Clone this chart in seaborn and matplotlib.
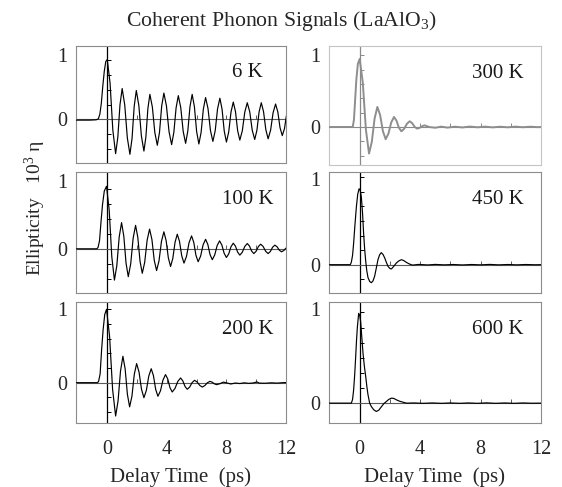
import matplotlib
matplotlib.use('Agg')
import matplotlib.pyplot as plt
import seaborn as sns
import pandas as pd

# ---------------- data ----------------
panel_labels = ['6 K', '100 K', '200 K', '300 K', '450 K', '600 K']

t_6K = [-2.1, -1.2, -0.75, -0.6, -0.5, -0.4, -0.3, -0.2, -0.1, 0.0,
        0.187, 0.373, 0.56, 0.707, 0.853, 1.00, 1.173, 1.347, 1.52, 1.663, 1.807, 1.95,
        2.12, 2.29, 2.46, 2.593, 2.727, 2.86, 3.027, 3.193, 3.36, 3.507, 3.653, 3.80,
        3.973, 4.147, 4.32, 4.47, 4.62, 4.77, 4.933, 5.097, 5.26, 5.407, 5.553, 5.70,
        5.85, 6.00, 6.15, 6.30, 6.45, 6.60, 6.763, 6.927, 7.09, 7.247, 7.403, 7.56,
        7.707, 7.853, 8.00, 8.153, 8.307, 8.46, 8.607, 8.753, 8.90, 9.067, 9.233, 9.40,
        9.567, 9.733, 9.90, 10.047, 10.193, 10.34, 10.493, 10.647, 10.80, 10.967, 11.133,
        11.30, 11.45, 11.60, 11.75, 11.90, 12.0, 12.1]
v_6K = [-0.01, -0.01, -0.005, 0.01, 0.08, 0.25, 0.52, 0.75, 0.9, 0.93,
        0.565, -0.165, -0.53, -0.278, 0.228, 0.48, 0.225, -0.285, -0.54, -0.293, 0.203, 0.45,
        0.215, -0.255, -0.49, -0.27, 0.17, 0.39, 0.193, -0.203, -0.40, -0.198, 0.208, 0.41,
        0.21, -0.19, -0.39, -0.20, 0.18, 0.37, 0.185, -0.185, -0.37, -0.18, 0.20, 0.39,
        0.198, -0.188, -0.38, -0.20, 0.16, 0.34, 0.17, -0.17, -0.34, -0.173, 0.163, 0.33,
        0.16, -0.18, -0.35, -0.195, 0.115, 0.27, 0.123, -0.173, -0.32, -0.175, 0.115, 0.26,
        0.118, -0.168, -0.31, -0.168, 0.118, 0.26, 0.12, -0.16, -0.30, -0.165, 0.105,
        0.24, 0.118, -0.128, -0.25, -0.14, 0.02, 0.15]

t_100K = [-2.1, -1.0, -0.7, -0.62, -0.52, -0.42, -0.32, -0.2, -0.05,
          0.127, 0.303, 0.48, 0.64, 0.80, 0.96, 1.11, 1.26, 1.41, 1.573, 1.737, 1.90,
          2.05, 2.20, 2.35, 2.513, 2.677, 2.84, 2.997, 3.153, 3.31, 3.473, 3.637, 3.80,
          3.95, 4.10, 4.25, 4.40, 4.55, 4.70, 4.85, 5.00, 5.15, 5.32, 5.49, 5.66,
          5.807, 5.953, 6.10, 6.267, 6.433, 6.60, 6.75, 6.90, 7.05, 7.213, 7.377, 7.54,
          7.693, 7.847, 8.00, 8.153, 8.307, 8.46, 8.607, 8.753, 8.90, 9.067, 9.233, 9.40,
          9.547, 9.693, 9.84, 9.993, 10.147, 10.30, 10.467, 10.633, 10.80, 10.95, 11.10,
          11.25, 11.40, 11.55, 11.70, 11.85, 12.0, 12.1]
v_100K = [0.0, 0.0, 0.0, 0.02, 0.12, 0.4, 0.65, 0.85, 0.92,
          0.575, -0.115, -0.46, -0.249, 0.174, 0.385, 0.186, -0.211, -0.41, -0.221, 0.156, 0.345,
          0.169, -0.184, -0.36, -0.198, 0.128, 0.29, 0.138, -0.168, -0.32, -0.178, 0.108, 0.25,
          0.123, -0.133, -0.26, -0.141, 0.096, 0.215, 0.109, -0.104, -0.21, -0.11, 0.09, 0.19,
          0.095, -0.095, -0.19, -0.108, 0.058, 0.14, 0.065, -0.085, -0.16, -0.091, 0.048, 0.117,
          0.056, -0.066, -0.127, -0.075, 0.031, 0.083, 0.039, -0.049, -0.093, -0.05, 0.035, 0.078,
          0.041, -0.033, -0.07, -0.036, 0.034, 0.068, 0.034, -0.036, -0.07, -0.039, 0.023,
          0.054, 0.03, -0.02, -0.044, -0.025, 0.01, 0.025]

t_200K = [-2.1, -1.0, -0.65, -0.58, -0.48, -0.38, -0.28, -0.17, -0.05,
          0.153, 0.357, 0.56, 0.723, 0.887, 1.05, 1.20, 1.35, 1.50, 1.657, 1.813, 1.97,
          2.133, 2.297, 2.46, 2.623, 2.787, 2.95, 3.10, 3.25, 3.40, 3.57, 3.74, 3.91,
          4.06, 4.21, 4.36, 4.547, 4.733, 4.92, 5.07, 5.22, 5.37, 5.533, 5.697, 5.86,
          6.033, 6.207, 6.38, 6.55, 6.72, 6.89, 7.04, 7.19, 7.34,
          7.55, 7.8, 8.05, 8.3, 8.6, 8.9, 9.2, 9.5, 9.8, 10.05, 10.2, 10.6, 11.0, 11.4, 11.8, 12.1]
v_200K = [0.0, 0.0, 0.0, 0.02, 0.12, 0.45, 0.72, 0.93, 1.0,
          0.636, -0.091, -0.455, -0.251, 0.156, 0.36, 0.1875, -0.158, -0.33, -0.183, 0.113, 0.26,
          0.144, -0.089, -0.205, -0.106, 0.091, 0.19, 0.096, -0.092, -0.186, -0.112, 0.036, 0.11,
          0.051, -0.068, -0.127, -0.079, 0.016, 0.064, 0.0255, -0.0515, -0.09, -0.06, 0.0015, 0.032,
          0.009, -0.037, -0.06, -0.04, -0.0015, 0.018, 0.007, -0.016, -0.027,
          -0.015, 0.008, -0.005, -0.018, -0.005, -0.012, -0.002, -0.01, -0.004, 0.01, -0.006,
          -0.008, -0.002, -0.006, 0.0, 0.002]

t_300K = [-2.05, -1.0, -0.46, -0.38, -0.30, -0.22, -0.12, 0.0,
          0.207, 0.413, 0.62, 0.803, 0.987, 1.17, 1.353, 1.537, 1.72, 1.903, 2.087, 2.27,
          2.433, 2.597, 2.76, 2.943, 3.127, 3.31, 3.473, 3.637, 3.80, 3.967, 4.133, 4.30,
          4.6, 5.0, 5.4, 5.8, 6.3, 6.8, 7.3, 7.8, 8.3, 8.8, 9.3, 9.8, 10.3, 10.8, 11.3, 11.8, 12.0]
v_300K = [0.0, 0.0, 0.0, 0.1, 0.38, 0.66, 0.88, 0.95,
          0.62, -0.04, -0.37, -0.2075, 0.1175, 0.28, 0.1675, -0.0575, -0.17, -0.0925, 0.0625, 0.14,
          0.09, -0.01, -0.06, -0.025, 0.045, 0.08, 0.054, 0.003, -0.023, -0.0115, 0.0115, 0.023,
          0.0, -0.01, 0.005, -0.008, 0.004, -0.006, 0.006, -0.004, 0.005, -0.005, 0.004,
          -0.004, 0.005, -0.003, 0.004, -0.002, 0.0]

t_450K = [-2.05, -1.0, -0.62, -0.55, -0.47, -0.4, -0.31, -0.22, -0.13, -0.04, 0.03, 0.11,
          0.19, 0.26, 0.33, 0.4, 0.47, 0.55, 0.66, 0.77, 0.88, 0.99, 1.1, 1.21, 1.32, 1.43,
          1.55, 1.66, 1.77, 1.88, 2.0, 2.1, 2.26, 2.43, 2.6, 2.76, 2.92, 3.09, 3.29, 3.49,
          3.9, 4.5, 5.0, 5.6, 6.2, 6.8, 7.4, 8.0, 8.6, 9.2, 9.8, 10.4, 11.0, 11.6, 12.0]
v_450K = [0.0, 0.0, 0.0, 0.03, 0.11, 0.25, 0.47, 0.67, 0.82, 0.885, 0.87, 0.79,
          0.6, 0.365, 0.18, 0.04, -0.07, -0.15, -0.195, -0.21, -0.19, -0.135, -0.04, 0.058, 0.115, 0.14,
          0.118, 0.077, 0.025, -0.02, -0.045, -0.05, -0.018, 0.02, 0.045, 0.058, 0.048, 0.027, 0.008, -0.005,
          0.003, -0.003, 0.003, -0.002, 0.002, -0.003, 0.002, -0.002, 0.003, -0.002, 0.002, -0.002,
          0.002, -0.001, 0.0]

t_600K = [-2.05, -1.0, -0.55, -0.47, -0.40, -0.33, -0.265, -0.21, -0.155, -0.066, 0.0, 0.066,
          0.14, 0.22, 0.31, 0.40, 0.48, 0.55, 0.66, 0.77, 0.93, 1.1, 1.26, 1.43, 1.6, 1.77,
          1.93, 2.1, 2.26, 2.43, 2.65, 2.87, 3.1, 3.6, 4.2, 4.8, 5.4, 6.0, 6.6, 7.2, 7.8, 8.4,
          9.0, 9.6, 10.2, 10.8, 11.4, 12.0]
v_600K = [0.0, 0.0, 0.0, 0.04, 0.14, 0.3, 0.49, 0.66, 0.8, 0.95, 0.93, 0.86,
          0.7, 0.53, 0.39, 0.28, 0.17, 0.09, 0.0, -0.035, -0.07, -0.088, -0.075, -0.04, -0.005, 0.018,
          0.04, 0.053, 0.05, 0.035, 0.02, 0.01, 0.0, 0.002, -0.002, 0.002, -0.002, 0.002, -0.002,
          0.002, -0.002, 0.003, -0.002, 0.002, -0.002, 0.002, -0.001, 0.0]

x_ticks = [0, 4, 8, 12]
y_ticks = [0, 1]

series_t = [t_6K, t_100K, t_200K, t_300K, t_450K, t_600K]
series_v = [v_6K, v_100K, v_200K, v_300K, v_450K, v_600K]

# ---------------- style ----------------
sns.set_theme(style='white')
plt.rcParams['font.family'] = ['Liberation Serif', 'DejaVu Serif']
plt.rcParams['mathtext.fontset'] = 'custom'
plt.rcParams['mathtext.rm'] = 'Liberation Serif'
plt.rcParams['mathtext.it'] = 'Liberation Serif:italic'

W, H = 562, 487
fig = plt.figure(figsize=(W / 100, H / 100), dpi=100)


def box(l, t, r, b):
    return [l / W, 1 - b / H, (r - l) / W, (b - t) / H]


boxes = [box(76, 46, 286, 163), box(76, 172, 286, 293), box(76, 302, 286, 423),
         box(329, 46, 541, 165), box(329, 172, 541, 293), box(329, 302, 541, 423)]
ylims = [(-0.675, 1.14), (-0.65, 1.13), (-0.55, 1.10),
         (-0.53, 1.13), (-0.33, 1.08), (-0.21, 1.07)]
xlims = [(-2.1, 12)] * 3 + [(-2.03, 12)] * 3
vtick_step = [0.23, 0.22, 0.2, 0.2, 0.17, 0.16]

for i in range(6):
    ax = fig.add_axes(boxes[i])
    gray_panel = (i == 3)
    line_col = '#8e8e8e' if gray_panel else 'black'
    frame_col = '#c4c4c4' if gray_panel else '#8c8c8c'
    axis_col = '#8a8a8a' if gray_panel else 'black'
    hcol = '#8a8a8a' if gray_panel else '#5a5a5a'

    ax.axvline(0, color=axis_col, lw=0.9, zorder=1)
    ax.axhline(0, color=hcol, lw=0.8, zorder=1)
    # small ticks along the zero axes (up-pointing and right-pointing)
    xs = [2, 4, 6, 8, 10]
    ax.plot(xs, [0] * len(xs), ls='none', marker=2, ms=3, mew=0.7, color=hcol, zorder=1)
    lo, hi = ylims[i]
    st = vtick_step[i]
    ys = [k * st for k in range(1, 10) if k * st < hi - 0.05] + \
         [-k * st for k in range(1, 10) if -k * st > lo + 0.05]
    ax.plot([0] * len(ys), ys, ls='none', marker=1, ms=3, mew=0.7, color=axis_col, zorder=1)

    df = pd.DataFrame({'t': series_t[i], 'v': series_v[i]})
    sns.lineplot(data=df, x='t', y='v', ax=ax, color=line_col,
                 lw=1.4 if gray_panel else 0.85, estimator=None, sort=False, zorder=3)

    ax.set_xlim(*xlims[i])
    ax.set_ylim(*ylims[i])
    ax.set_xticks(x_ticks)
    ax.set_yticks(y_ticks)
    ax.set_xlabel('')
    ax.set_ylabel('')
    ax.tick_params(length=0, labelsize=14.5)
    ax.tick_params(axis='y', pad=6)
    ax.tick_params(axis='x', pad=12)
    bottom = i in (2, 5)
    if not bottom:
        ax.tick_params(labelbottom=False)
    else:
        ax.set_xlabel('Delay Time  (ps)', fontsize=15, labelpad=6)
    for sp in ax.spines.values():
        sp.set_color(frame_col)
        sp.set_linewidth(0.8)
    xc = 0.817 if i < 3 else 0.797
    ax.text(xc, 0.77, panel_labels[i], transform=ax.transAxes,
            ha='center', va='center', fontsize=15, color='#1a1a1a')

fig.text(0.5, 1 - 21 / H, 'Coherent Phonon Signals (LaAlO$_3$)',
         ha='center', va='center', fontsize=15.7)
fig.text(35 / W, 1 - 208 / H, 'Ellipticity   10$^3$ η', rotation=90,
         ha='center', va='center', fontsize=14)

fig.savefig('out.png', dpi=100)
